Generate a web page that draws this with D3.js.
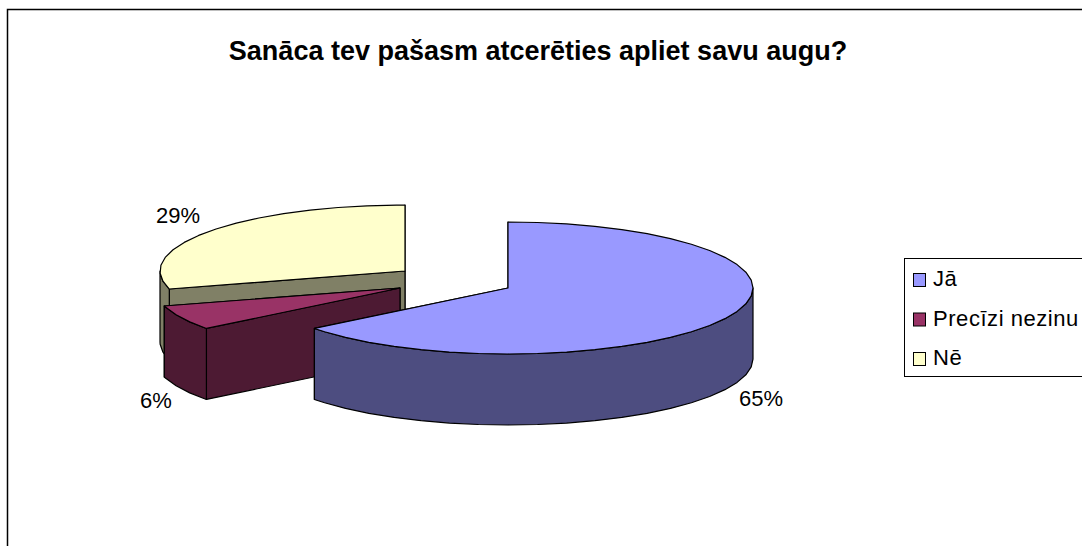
<!DOCTYPE html>
<html>
<head>
<meta charset="utf-8">
<script src="https://cdnjs.cloudflare.com/ajax/libs/d3/7.8.5/d3.min.js"></script>
<style>
  html, body { margin: 0; padding: 0; background: #fff; overflow: hidden; }
  text { font-family: "Liberation Sans", Arial, sans-serif; fill: #000; }
</style>
</head>
<body>
<svg id="chart" width="1082" height="546"></svg>
<script>
'use strict';

// data
const categories = ['Jā', 'Precīzi nezinu', 'Nē'];
const shares = [64.5, 6.1, 29.4];
const topColors = ['#9999ff', '#993366', '#ffffcc'];
const wallColors = ['#4d4d80', '#4d1a33', '#808066'];

// layout
const W = 1082;
const H = 546;
const RX = 245;
const RY = 66;
const DEPTH = 71;
const ARC_STEP = Math.PI / 26; // coarse on purpose, the original outline is faceted
const centers = [[508, 288], [400, 288], [405, 271]];
const labelPos = [[761, 406], [156, 408], [178, 223]];

const svg = d3.select('#chart');

svg.append('rect')
  .attr('x', 7.5).attr('y', 9.5)
  .attr('width', W + 20).attr('height', H + 20)
  .attr('fill', '#fff').attr('stroke', '#000').attr('stroke-width', 1.5);

svg.append('text')
  .attr('x', 538).attr('y', 60)
  .attr('text-anchor', 'middle')
  .attr('font-size', 27).attr('font-weight', 'bold')
  .text('Sanāca tev pašasm atcerēties apliet savu augu?');

const pie = d3.pie().sort(null).value((d) => d);
const slices = pie(shares);
const line = d3.line();

// Ellipse point for a pie angle, 0 is twelve o'clock and it runs clockwise.
function project(center, angle, drop) {
  return [
    center[0] + RX * Math.sin(angle),
    center[1] - RY * Math.cos(angle) + (drop || 0)
  ];
}

function arcAngles(a0, a1) {
  const out = d3.range(a0, a1, ARC_STEP);
  out.push(a1);
  return out;
}

function drawPoly(points, fill) {
  svg.append('path')
    .attr('d', line(points) + 'Z')
    .attr('fill', fill)
    .attr('stroke', '#000')
    .attr('stroke-width', 1.2)
    .attr('stroke-linejoin', 'round');
}

function drawSlice(i) {
  const s = slices[i];
  const c = centers[i];
  const bottom = [c[0], c[1] + DEPTH];

  // cut walls, end first: the start wall is the one that faces the viewer
  [s.endAngle, s.startAngle].forEach((a) => {
    drawPoly([c, project(c, a), project(c, a, DEPTH), bottom], wallColors[i]);
  });

  // outer wall, only the front half of the rim shows
  const from = Math.max(s.startAngle, Math.PI / 2);
  const to = Math.min(s.endAngle, Math.PI * 1.5);
  if (to > from) {
    const rim = arcAngles(from, to);
    drawPoly(
      rim.map((a) => project(c, a))
        .concat(rim.slice().reverse().map((a) => project(c, a, DEPTH))),
      wallColors[i]
    );
  }

  // top
  drawPoly(
    [c].concat(arcAngles(s.startAngle, s.endAngle).map((a) => project(c, a))),
    topColors[i]
  );
}

// back to front
[2, 1, 0].forEach(drawSlice);

svg.selectAll('text.pct')
  .data(shares)
  .enter().append('text')
  .attr('class', 'pct')
  .attr('x', (d, i) => labelPos[i][0])
  .attr('y', (d, i) => labelPos[i][1])
  .attr('text-anchor', 'middle')
  .attr('font-size', 22)
  .text((d) => d3.format('.0f')(d) + '%');

// legend runs off the right edge like in the original
const legend = svg.append('g');
legend.append('rect')
  .attr('x', 904.5).attr('y', 258.5)
  .attr('width', 200).attr('height', 118)
  .attr('fill', '#fff').attr('stroke', '#000');

const legendY = d3.scalePoint()
  .domain(categories)
  .range([280, 359]);

categories.forEach((name, i) => {
  legend.append('rect')
    .attr('x', 913.5).attr('y', legendY(name) - 6.5)
    .attr('width', 12).attr('height', 13)
    .attr('fill', topColors[i])
    .attr('stroke', '#000').attr('stroke-width', 1);
  legend.append('text')
    .attr('x', 933).attr('y', legendY(name) + 6)
    .attr('font-size', 22)
    .attr('letter-spacing', 0.55)
    .text(name);
});
</script>
</body>
</html>
